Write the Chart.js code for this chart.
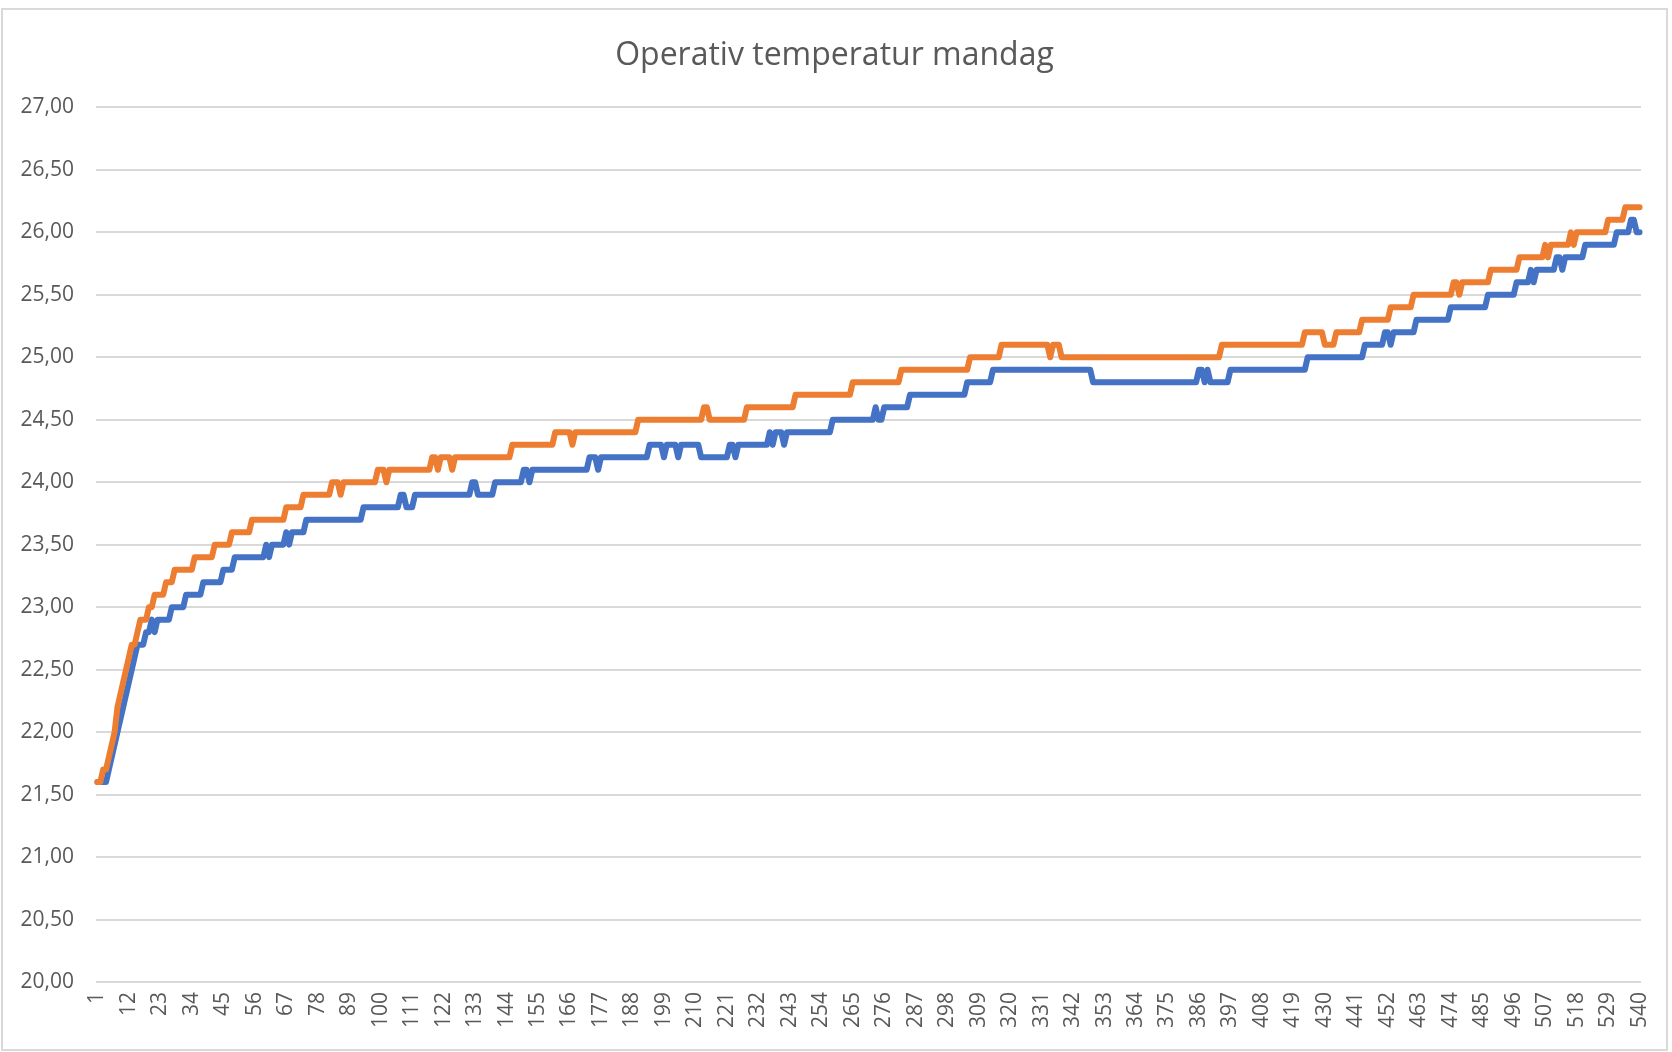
<!DOCTYPE html>
<html>
<head>
<meta charset="utf-8">
<title>Operativ temperatur mandag</title>
<script src="https://cdn.jsdelivr.net/npm/chart.js@4.4.1/dist/chart.umd.min.js"></script>
<style>
  body { margin: 0; background: #fff; }
  #wrap {
    position: absolute;
    left: 1px;
    top: 8px;
    width: 1667px;
    height: 1043px;
    box-sizing: border-box;
    border: 2px solid #d9d9d9;
  }
</style>
</head>
<body>
<div id="wrap"><canvas id="chart"></canvas></div>
<script>
// Step data: each value holds up to (and including) the end index
const blueEnds = [4, 5, 6, 7, 8, 9, 10, 11, 12, 13, 14, 17, 19, 20, 21, 26, 31, 37, 44, 48,
  59, 60, 61, 66, 67, 68, 73, 93, 106, 108, 111, 131, 133, 139, 149, 151, 152, 172, 175, 176,
  193, 198, 199, 203, 204, 211, 221, 223, 224, 235, 236, 237, 240, 241, 257, 272, 273, 275, 284, 304,
  313, 348, 385, 387, 388, 389, 396, 423, 443, 450, 452, 453, 461, 473, 486, 496, 501, 502, 503, 510,
  512, 513, 520, 531, 536, 538, 540];
const blueValues = [21.6, 21.7, 21.8, 21.9, 22.0, 22.1, 22.2, 22.3, 22.4, 22.5, 22.6, 22.7, 22.8, 22.9, 22.8, 22.9, 23.0, 23.1, 23.2, 23.3,
  23.4, 23.5, 23.4, 23.5, 23.6, 23.5, 23.6, 23.7, 23.8, 23.9, 23.8, 23.9, 24.0, 23.9, 24.0, 24.1, 24.0, 24.1, 24.2, 24.1,
  24.2, 24.3, 24.2, 24.3, 24.2, 24.3, 24.2, 24.3, 24.2, 24.3, 24.4, 24.3, 24.4, 24.3, 24.4, 24.5, 24.6, 24.5, 24.6, 24.7,
  24.8, 24.9, 24.8, 24.9, 24.8, 24.9, 24.8, 24.9, 25.0, 25.1, 25.2, 25.1, 25.2, 25.3, 25.4, 25.5, 25.6, 25.7, 25.6, 25.7,
  25.8, 25.7, 25.8, 25.9, 26.0, 26.1, 26.0];

const orangeEnds = [2, 4, 5, 6, 7, 8, 9, 10, 11, 12, 14, 15, 18, 20, 24, 27, 34, 41, 47, 54,
  66, 72, 82, 85, 86, 98, 101, 102, 117, 119, 120, 124, 125, 145, 160, 166, 167, 189, 212, 214,
  227, 244, 264, 281, 305, 316, 333, 334, 337, 393, 422, 429, 433, 442, 452, 460, 474, 476, 477, 487,
  497, 506, 507, 508, 515, 516, 517, 528, 534, 540];
const orangeValues = [21.6, 21.7, 21.8, 21.9, 22.0, 22.2, 22.3, 22.4, 22.5, 22.6, 22.7, 22.8, 22.9, 23.0, 23.1, 23.2, 23.3, 23.4, 23.5, 23.6,
  23.7, 23.8, 23.9, 24.0, 23.9, 24.0, 24.1, 24.0, 24.1, 24.2, 24.1, 24.2, 24.1, 24.2, 24.3, 24.4, 24.3, 24.4, 24.5, 24.6,
  24.5, 24.6, 24.7, 24.8, 24.9, 25.0, 25.1, 25.0, 25.1, 25.0, 25.1, 25.2, 25.1, 25.2, 25.3, 25.4, 25.5, 25.6, 25.5, 25.6,
  25.7, 25.8, 25.9, 25.8, 25.9, 26.0, 25.9, 26.0, 26.1, 26.2];

const pointCount = 540;
const labelStep = 11;

// x categories 1..540
const labels = [];
for (let i = 1; i <= pointCount; i++) labels.push(String(i));

// expand the step lists to one value per category
function expandSteps(ends, values) {
  const out = [];
  let k = 0;
  for (let i = 1; i <= pointCount; i++) {
    while (i > ends[k]) k++;
    out.push(values[k]);
  }
  return out;
}

const blueData = expandSteps(blueEnds, blueValues);
const orangeData = expandSteps(orangeEnds, orangeValues);

const textColor = "#595959";
const gridColor = "#d9d9d9";

new Chart(document.getElementById("chart"), {
  type: "line",
  data: {
    labels: labels,
    datasets: [
      {
        label: "Serie2",
        data: orangeData,
        borderColor: "#ed7d31",
        borderWidth: 6,
        pointRadius: 0,
        borderJoinStyle: "round",
        borderCapStyle: "round",
        order: 1,
      },
      {
        label: "Serie1",
        data: blueData,
        borderColor: "#4472c4",
        borderWidth: 6,
        pointRadius: 0,
        borderJoinStyle: "round",
        borderCapStyle: "round",
        order: 2,
      },
    ],
  },
  options: {
    responsive: true,
    maintainAspectRatio: false,
    animation: false,
    layout: { padding: 0 },
    plugins: {
      legend: { display: false },
      tooltip: { enabled: false },
      title: {
        display: true,
        text: "Operativ temperatur mandag",
        color: textColor,
        font: { family: "'Open Sans', sans-serif", size: 32, weight: "normal" },
        padding: { top: 27, bottom: 32 },
      },
    },
    scales: {
      x: {
        offset: true,
        grid: { display: false, drawTicks: false },
        border: { display: false },
        ticks: {
          autoSkip: false,
          minRotation: 90,
          maxRotation: 90,
          padding: 10,
          color: textColor,
          font: { family: "'Open Sans', sans-serif", size: 21 },
          callback: function (val, index) {
            return index % labelStep === 0 ? this.getLabelForValue(val) : null;
          },
        },
        afterFit: (scale) => {
          scale.height = 67;
          // keep the plot's right edge where the reference has it
          scale.paddingLeft = 0;
          scale.paddingRight = 25;
        },
      },
      y: {
        min: 20,
        max: 27,
        grid: { color: gridColor, lineWidth: 2, drawTicks: false },
        border: { display: false },
        ticks: {
          stepSize: 0.5,
          padding: 22,
          color: textColor,
          font: { family: "'Open Sans', sans-serif", size: 21 },
          callback: (v) => v.toFixed(2).replace(".", ","),
        },
        afterFit: (scale) => {
          scale.width = 93;
        },
      },
    },
  },
});
</script>
</body>
</html>
